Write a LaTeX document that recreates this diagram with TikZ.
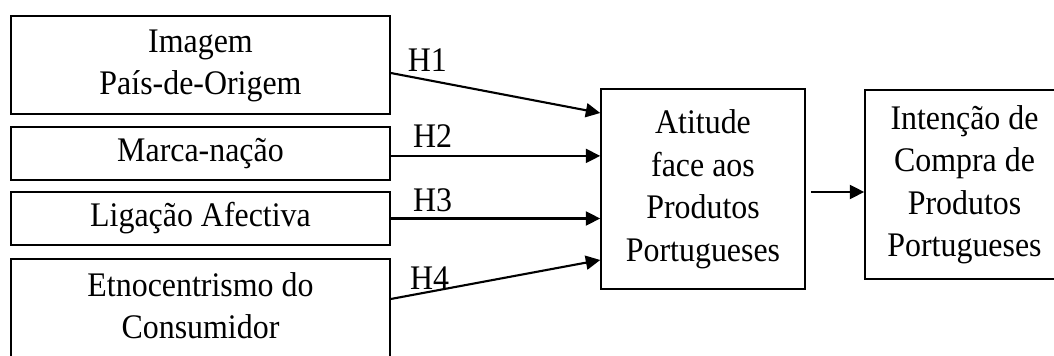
\documentclass[tikz,border=0pt]{standalone}
\usepackage{graphicx}
\usepackage{fontspec}
\setmainfont{Liberation Serif}
\usetikzlibrary{arrows.meta}

% text in the source is set a little taller than it is wide
\newcommand{\tall}[1]{\scalebox{1}[1.08]{#1}}
\newcommand{\stack}[1]{\tall{\begin{tabular}{@{}c@{}}#1\end{tabular}}}

\begin{document}
\begin{tikzpicture}[>={Triangle[length=0.36cm,width=0.35cm]},
  factor/.style={draw, line width=1.1pt, inner sep=0pt,
    font=\fontsize{22.7}{27.9}\selectfont},
  link/.style={->, line width=1.5pt},
  hyp/.style={inner sep=0pt, font=\fontsize{22.7}{27.9}\selectfont}]

  \useasboundingbox (0,0) rectangle (26.35,8.9);

  % antecedents
  \node[factor, minimum width=9.475cm, minimum height=2.45cm] (img)
    at (5.0125,7.275) {\stack{Imagem\\País-de-Origem}};
  \node[factor, minimum width=9.475cm, minimum height=1.325cm] (mar)
    at (5.0125,5.0625) {\stack{Marca-nação}};
  \node[factor, minimum width=9.475cm, minimum height=1.325cm] (lig)
    at (5.0125,3.4375) {\stack{Ligação Afectiva}};
  \node[factor, minimum width=9.475cm, minimum height=2.5cm] (etn)
    at (5.0125,1.175) {\stack{Etnocentrismo do\\Consumidor}};

  % attitude and intention
  \node[factor, minimum width=5.1cm, minimum height=5cm] (att)
    at (17.575,4.175) {\stack{Atitude\\face aos\\Produtos\\Portugueses}};
  \node[factor, minimum width=4.975cm, minimum height=4.725cm] (int)
    at (24.1125,4.2875) {\stack{Intenção de\\Compra de\\Produtos\\Portugueses}};

  \draw[link] ([yshift=-0.2cm]img.east) --
    node[hyp, pos=0.175, above=0.175cm] {\tall{H1}} ([yshift=1.9cm]att.west);
  \draw[link] ([yshift=-0.06cm]mar.east) --
    node[hyp, pos=0.2, above=0.175cm] {\tall{H2}} ([yshift=-0.06cm]mar.east -| att.west);
  \draw[link] (lig.east) --
    node[hyp, pos=0.2, above=0.15cm] {\tall{H3}} (lig.east -| att.west);
  \draw[link] ([yshift=0.25cm]etn.east) --
    node[hyp, pos=0.185, above=0.03cm] {\tall{H4}} ([yshift=-1.775cm]att.west);

  \draw[link] ([xshift=0.125cm,yshift=-0.075cm]att.east) -- ([yshift=-0.1875cm]int.west);

\end{tikzpicture}
\end{document}
